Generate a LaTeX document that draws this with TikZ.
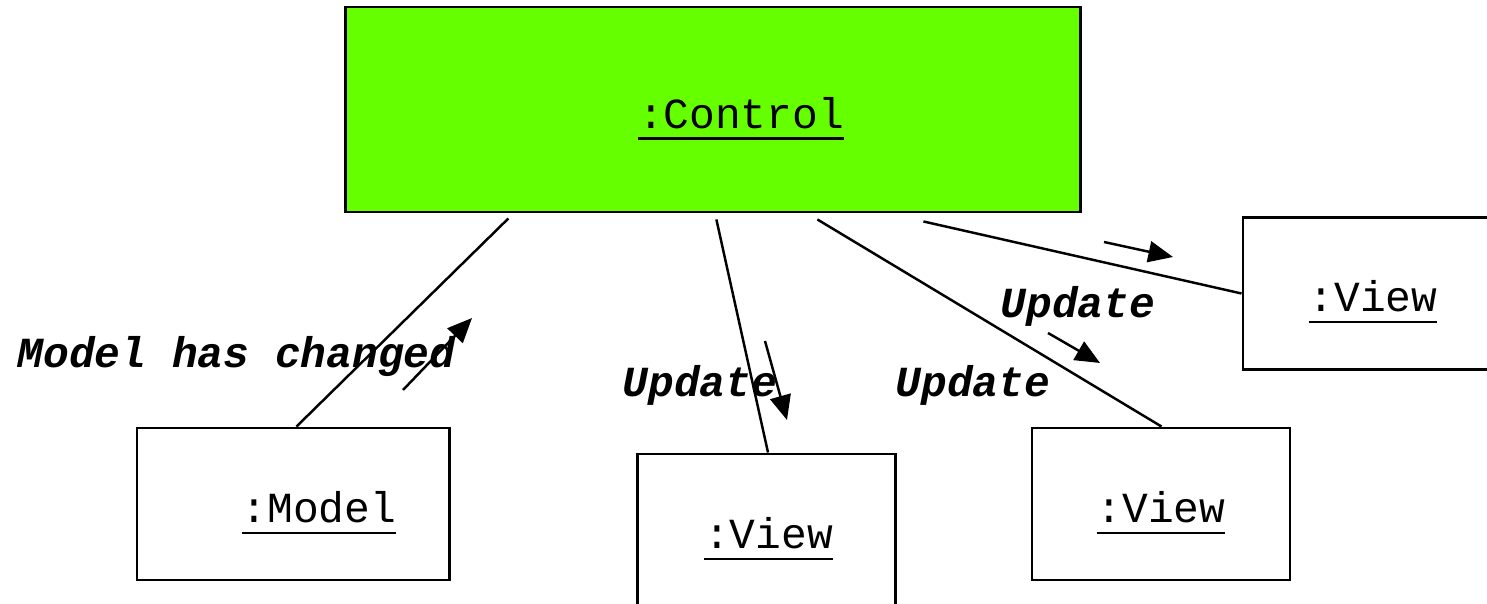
\documentclass[tikz,border=0pt]{standalone}
\usepackage{fontspec}
\setmonofont{Liberation Mono}
\usetikzlibrary{arrows.meta, calc}
\definecolor{ctlgreen}{HTML}{66FF00}
% underlined object name, rule a bit heavier than \underline
\newcommand{\objname}[1]{\setbox0=\hbox{#1}\rlap{\rule[-3.25pt]{\wd0}{0.8pt}}\box0}

\begin{document}
\begin{tikzpicture}[x=0.01cm, y=-0.01cm,
  box/.style={draw, line width=0.8pt, inner sep=0pt, minimum height=1.52cm},
  objtext/.style={anchor=base, inner sep=0pt, font=\ttfamily\fontsize{12.2}{14}\selectfont},
  msgtext/.style={anchor=base west, inner sep=0pt, font=\ttfamily\bfseries\itshape\fontsize{12.2}{14}\selectfont},
  link/.style={line width=0.7pt},
  msg/.style={line width=0.7pt, -{Triangle[length=7pt,width=6pt]}}]
  \useasboundingbox (0,0) rectangle (1487,604);

  % objects
  \node[box, fill=ctlgreen, minimum width=7.34cm, minimum height=2.05cm] (ctl) at (713,109.5) {};
  \node[box, minimum width=3.12cm] (model) at (293,504) {};
  \node[box, minimum width=2.58cm] (view1) at (766.5,530) {};
  \node[box, minimum width=2.58cm] (view2) at (1161,504) {};
  \node[box, minimum width=2.58cm] (view3) at (1372,293.5) {};

  \node[objtext] (ctlname) at ($(ctl)+(28,19)$) {\objname{:Control}};
  \node[objtext] (modelname) at ($(model)+(26,19)$) {\objname{:Model}};
  \node[objtext] (view1name) at ($(view1)+(2,19)$) {\objname{:View}};
  \node[objtext] (view2name) at ($(view2)+(0,19)$) {\objname{:View}};
  \node[objtext] (view3name) at ($(view3)+(1,18.5)$) {\objname{:View}};

  % links
  \draw[link] ($(ctl.south west)+(164,5)$) -- ($(model.north west)+(161,0)$);
  \draw[link] ($(ctl.south west)+(372,6)$) -- ($(view1.north west)+(132,0)$);
  \draw[link] ($(ctl.south west)+(473,6)$) -- ($(view2.north west)+(131,0)$);
  \draw[link] ($(ctl.south west)+(579,8)$) -- (view3.west);

  % messages
  \coordinate (m1a) at (403,390);  \coordinate (m1b) at (472,318);
  \coordinate (m2a) at (765,341);  \coordinate (m2b) at (787,420);
  \coordinate (m3a) at (1048,333); \coordinate (m3b) at (1100,363);
  \coordinate (m4a) at (1104,242); \coordinate (m4b) at (1173,257);
  \draw[msg] (m1a) -- (m1b);
  \draw[msg] (m2a) -- (m2b);
  \draw[msg] (m3a) -- (m3b);
  \draw[msg] (m4a) -- (m4b);

  \node[msgtext] (lblmodel) at (17,368) {Model has changed};
  \node[msgtext] (lblview1) at (622,397) {Update};
  \node[msgtext] (lblview2) at (895,397) {Update};
  \node[msgtext] (lblview3) at (1000,318) {Update};
\end{tikzpicture}
\end{document}
